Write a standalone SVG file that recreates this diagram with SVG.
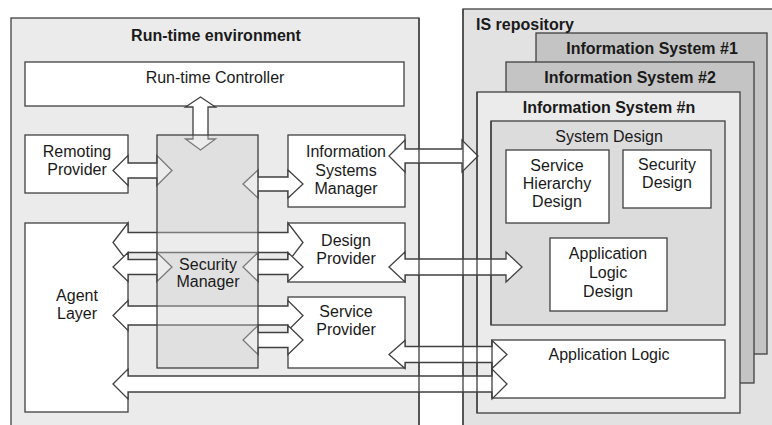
<svg xmlns="http://www.w3.org/2000/svg" width="772" height="425" viewBox="0 0 772 425">
  <defs>
    <style>
      .box { fill: #ffffff; stroke: #404040; stroke-width: 1.3; }
      .env { fill: #ebebeb; stroke: #404040; stroke-width: 1.3; }
      .repo { fill: #e2e2e2; stroke: #404040; stroke-width: 1.3; }
      .sys { fill: #c4c4c4; stroke: #404040; stroke-width: 1.3; }
      .sysn { fill: #ebebeb; stroke: #404040; stroke-width: 1.3; }
      .design { fill: #dcdcdc; stroke: #404040; stroke-width: 1.3; }
      .edge { fill: none; stroke: #404040; stroke-width: 1.3; }
      .arrow { fill: #ffffff; stroke: #404040; stroke-width: 1.3; stroke-linejoin: miter; }
      .glass { fill: #cfcfcf; fill-opacity: 0.4; stroke: #404040; stroke-width: 1.3; }
      text { font-family: "Liberation Sans", Arial, sans-serif; font-size: 16px; fill: #1a1a1a; text-anchor: middle; }
      .title { font-weight: bold; }
    </style>
  </defs>

  <!-- containers -->
  <g id="runtime-environment">
    <rect class="env" x="11" y="18" width="408" height="420"/>
  </g>
  <g id="is-repository">
    <rect class="repo" x="463" y="9" width="320" height="430"/>
  </g>
  <g id="information-system-1">
    <rect class="sys" x="536" y="33" width="231" height="321"/>
  </g>
  <g id="information-system-2">
    <rect class="sys" x="506" y="62" width="248" height="321"/>
  </g>
  <g id="information-system-n">
    <rect class="sysn" x="477" y="92" width="263" height="321"/>
  </g>
  <g id="system-design">
    <rect class="design" x="491" y="121" width="234" height="204"/>
  </g>

  <!-- inner nodes -->
  <g id="runtime-controller">
    <rect class="box" x="25" y="62" width="379" height="44"/>
  </g>
  <g id="remoting-provider">
    <rect class="box" x="25" y="135" width="103" height="58"/>
  </g>
  <g id="is-manager">
    <rect class="box" x="288" y="135" width="117" height="72"/>
  </g>
  <g id="design-provider">
    <rect class="box" x="288" y="223" width="117" height="59"/>
  </g>
  <g id="service-provider">
    <rect class="box" x="288" y="297" width="117" height="71"/>
  </g>
  <g id="agent-layer">
    <rect class="box" x="25" y="223" width="103" height="189"/>
  </g>
  <g id="service-hierarchy-design">
    <rect class="box" x="506" y="150" width="103" height="73"/>
  </g>
  <g id="security-design">
    <rect class="box" x="623" y="150" width="88" height="58"/>
  </g>
  <g id="application-logic-design">
    <rect class="box" x="550" y="238" width="117" height="73"/>
  </g>
  <g id="application-logic">
    <rect class="box" x="492" y="340" width="233" height="58"/>
  </g>

  <!-- connectors: double-headed block arrows -->
  <g id="connectors">
    <polygon class="arrow" points="200.5,97 215.5,107 208,107 208,139 215.5,139 200.5,150 185.5,139 193,139 193,107 185.5,107"/>
    <polygon class="arrow" points="113,170.5 128,155.5 128,163 157,163 157,155.5 172,170.5 157,185.5 157,178 128,178 128,185.5"/>
    <polygon class="arrow" points="243,184 258,170 258,177 288,177 288,170 303,184 288,198 288,191 258,191 258,198"/>
    <polygon class="arrow" points="389,156 405,140 405,149 462,149 462,140 478,156 462,172 462,163 405,163 405,172"/>
    <polygon class="arrow" points="113,242.5 128,223 128,232.5 288,232.5 288,223 303,242.5 288,262 288,252.5 128,252.5 128,262"/>
    <polygon class="arrow" points="113,267 128,252.5 128,259.5 157,259.5 157,252.5 172,267 157,281.5 157,274.5 128,274.5 128,281.5"/>
    <polygon class="arrow" points="243,267 258,252.5 258,259.5 288,259.5 288,252.5 303,267 288,281.5 288,274.5 258,274.5 258,281.5"/>
    <polygon class="arrow" points="389,267 405,252 405,259 506,259 506,252 522,267 506,282 506,275 405,275 405,282"/>
    <polygon class="arrow" points="113,315.5 128,300.5 128,306 288,306 288,300.5 303,315.5 288,330.5 288,325 128,325 128,330.5"/>
    <polygon class="arrow" points="243,340 258,325.5 258,332.5 288,332.5 288,325.5 303,340 288,354.5 288,347.5 258,347.5 258,354.5"/>
    <polygon class="arrow" points="389,354.5 405,340.5 405,346.5 492,346.5 492,340.5 507,354.5 492,368.5 492,362.5 405,362.5 405,368.5"/>
    <polygon class="arrow" points="113,384 128,369 128,376 492,376 492,369 507,384 492,399 492,392 128,392 128,399"/>
  </g>

  <!-- container edges drawn over the arrows that cross them -->
  <g id="container-edges">
    <line class="edge" x1="419" y1="18" x2="419" y2="425"/>
    <line class="edge" x1="463" y1="9" x2="463" y2="425"/>
    <line class="edge" x1="477" y1="92" x2="477" y2="413"/>
    <line class="edge" x1="491" y1="121" x2="491" y2="325"/>
    <line class="edge" x1="492" y1="340" x2="492" y2="398"/>
  </g>

  <!-- security manager: translucent layer over the arrows -->
  <g id="security-manager">
    <rect class="glass" x="157" y="135" width="101" height="233"/>
    <text x="208" y="270">Security</text>
    <text x="208" y="287">Manager</text>
  </g>

  <!-- labels -->
  <g id="labels">
    <text class="title" x="216" y="41">Run-time environment</text>
    <text x="215" y="83">Run-time Controller</text>
    <text x="77" y="157">Remoting</text>
    <text x="77" y="175">Provider</text>
    <text x="346" y="157">Information</text>
    <text x="346" y="176">Systems</text>
    <text x="346" y="194">Manager</text>
    <text x="346" y="246">Design</text>
    <text x="346" y="264">Provider</text>
    <text x="346" y="317">Service</text>
    <text x="346" y="335">Provider</text>
    <text x="77" y="301">Agent</text>
    <text x="77" y="319">Layer</text>
    <text class="title" x="476" y="30" style="text-anchor:start">IS repository</text>
    <text class="title" x="652" y="54">Information System #1</text>
    <text class="title" x="630" y="83">Information System #2</text>
    <text class="title" x="609" y="113">Information System #n</text>
    <text x="609" y="142">System Design</text>
    <text x="557" y="171">Service</text>
    <text x="557" y="189">Hierarchy</text>
    <text x="557" y="207">Design</text>
    <text x="667" y="170">Security</text>
    <text x="667" y="188">Design</text>
    <text x="608" y="259">Application</text>
    <text x="608" y="278">Logic</text>
    <text x="608" y="297">Design</text>
    <text x="609" y="360">Application Logic</text>
  </g>
</svg>
